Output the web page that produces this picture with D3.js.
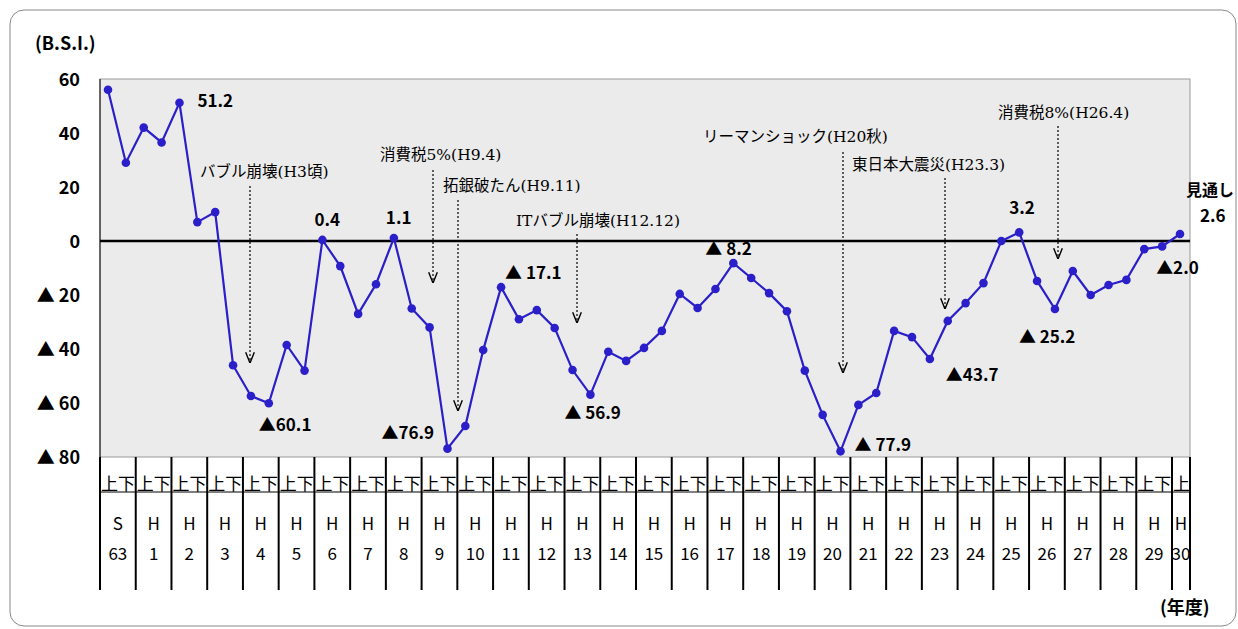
<!DOCTYPE html>
<html><head><meta charset="utf-8">
<script src="https://cdn.jsdelivr.net/npm/d3@7"></script>
<style>body{margin:0;background:#fff;font-family:"Noto Sans CJK JP",sans-serif;}</style>
</head><body>
<script>
// DATA
var years = ['S\n63','H\n1','H\n2','H\n3','H\n4','H\n5','H\n6','H\n7','H\n8','H\n9','H\n10','H\n11','H\n12','H\n13','H\n14','H\n15',
  'H\n16','H\n17','H\n18','H\n19','H\n20','H\n21','H\n22','H\n23','H\n24','H\n25','H\n26','H\n27','H\n28','H\n29','H\n30'];
var bsi = [56,29, 42,36.5, 51.2,7, 10.7,-46, -57.4,-60.1, -38.5,-48, 0.4,-9.3, -27,-16, 1.1,-25, -32,-76.9,
  -68.5,-40.4, -17.1,-29, -25.6,-32.2, -47.8,-56.9, -41,-44.4, -39.6,-33.3, -19.6,-24.8, -17.8,-8.2, -13.7,-19.3,
  -26,-48, -64.4,-77.9, -60.7,-56.3, -33.3,-35.6, -43.7,-29.6, -23,-15.6, 0,3.2, -14.8,-25.2, -11.1,-20,
  -16.3,-14.4, -3,-2.0, 2.6];
var yTicks = [60,40,20,0,-20,-40,-60,-80];
var valueLabels = [[4,'51.2',18,-2],[9,'▲60.1',-10,22],[12,'0.4',-8,-20],[16,'1.1',-8,-20],[19,'▲76.9',-66,-16],
  [22,'▲ 17.1',4,-14],[27,'▲ 56.9',-26,18],[35,'▲ 8.2',-28,-14],[41,'▲ 77.9',14,-6],[46,'▲43.7',16,16],
  [51,'3.2',-10,-24],[53,'▲ 25.2',-36,28],[59,'▲2.0',-6,22],[60,'2.6',20,-18]];
// [label, text x, text baseline, arrow x, arrow top, arrow end]
var events = [['バブル崩壊(H3頃)',200,177,250,186,362],['消費税5%(H9.4)',380,160,433,170,282],
  ['拓銀破たん(H9.11)',443,191,458,200,410],['ITバブル崩壊(H12.12)',516,226,577,234,322],
  ['リーマンショック(H20秋)',703,142,843,152,372],['東日本大震災(H23.3)',852,170,945,178,308],
  ['消費税8%(H26.4)',998,118,1058,126,258]];

var W=1238,H=629, x0=100, x1=1190, yTop=79, yBot=457, colW=(1172-100)/30;
var svg=d3.select('body').append('svg').attr('width',W).attr('height',H);
svg.append('defs').append('marker').attr('id','ar').attr('viewBox','0 0 10 10').attr('refX',9).attr('refY',5)
  .attr('markerWidth',9).attr('markerHeight',9).attr('orient','auto')
  .append('path').attr('d','M0,1L10,5L0,9').attr('fill','none').attr('stroke','#000').attr('stroke-width',1.3);
svg.append('rect').attr('x',10).attr('y',10).attr('width',1226).attr('height',616).attr('rx',14)
  .attr('fill','none').attr('stroke','#888');

var y=d3.scaleLinear().domain([-80,60]).range([yBot,yTop]);
var x=function(i){return x0+8+i*colW/2;};
svg.append('rect').attr('x',x0).attr('y',yTop).attr('width',x1-x0).attr('height',yBot-yTop)
  .attr('fill','#ebebeb').attr('stroke','#999');
svg.append('line').attr('x1',x0).attr('x2',x1).attr('y1',y(0)).attr('y2',y(0)).attr('stroke','#000').attr('stroke-width',2.5);
svg.append('line').attr('x1',x0).attr('x2',x0).attr('y1',yTop).attr('y2',yBot).attr('stroke','#000');

svg.selectAll('.yt').data(yTicks).enter().append('text').attr('x',80).attr('y',function(d){return y(d)+7;})
  .attr('text-anchor','end').attr('font-size',18).attr('font-weight','bold')
  .text(function(d){return d<0?'▲ '+(-d):d;});
svg.append('text').attr('x',35).attr('y',50).attr('font-size',18).attr('font-weight','bold').text('(B.S.I.)');
svg.append('text').attr('x',1160).attr('y',614).attr('font-size',18).attr('font-weight','bold').text('(年度)');

// table
var g=svg.append('g');
years.forEach(function(yr,i){
  var xl=x0+i*colW, w=(i==years.length-1)?18:colW;
  g.append('line').attr('x1',xl).attr('x2',xl).attr('y1',yBot).attr('y2',590).attr('stroke','#000').attr('stroke-width',2);
  g.append('text').attr('x',xl+1).attr('y',490).attr('font-size',17).text(i==years.length-1?'上':'上下');
  g.append('line').attr('x1',xl).attr('x2',xl+w).attr('y1',492).attr('y2',492).attr('stroke','#000');
  var p=yr.split('\n');
  g.append('text').attr('x',xl+w/2).attr('y',530).attr('text-anchor','middle').attr('font-size',17).text(p[0]);
  g.append('text').attr('x',xl+w/2).attr('y',560).attr('text-anchor','middle').attr('font-size',17).text(p[1]);
});
g.append('line').attr('x1',x1).attr('x2',x1).attr('y1',yBot).attr('y2',590).attr('stroke','#000').attr('stroke-width',2);

svg.append('path').datum(bsi).attr('fill','none').attr('stroke','#2a1fc8').attr('stroke-width',2.2)
  .attr('d',d3.line().x(function(d,i){return x(i);}).y(function(d){return y(d);}));
svg.selectAll('.pt').data(bsi).enter().append('circle').attr('cx',function(d,i){return x(i);})
  .attr('cy',function(d){return y(d);}).attr('r',4.3).attr('fill','#2a1fc8');

valueLabels.forEach(function(v){
  svg.append('text').attr('x',x(v[0])+v[2]).attr('y',y(bsi[v[0]])+v[3]+6).attr('font-size',17).attr('font-weight',600)
    .text(v[1]);
});
svg.append('text').attr('x',1186).attr('y',196).attr('font-size',16).attr('font-weight',600).text('見通し');

events.forEach(function(e){
  svg.append('text').attr('x',e[1]).attr('y',e[2]).attr('font-size',15.5).attr('font-family','"DejaVu Serif","Noto Sans CJK JP",serif').text(e[0]);
  svg.append('line').attr('x1',e[3]).attr('x2',e[3]).attr('y1',e[4]).attr('y2',e[5])
    .attr('stroke','#000').attr('stroke-width',1.2).attr('stroke-dasharray','2,2').attr('marker-end','url(#ar)');
});
</script>
</body></html>
